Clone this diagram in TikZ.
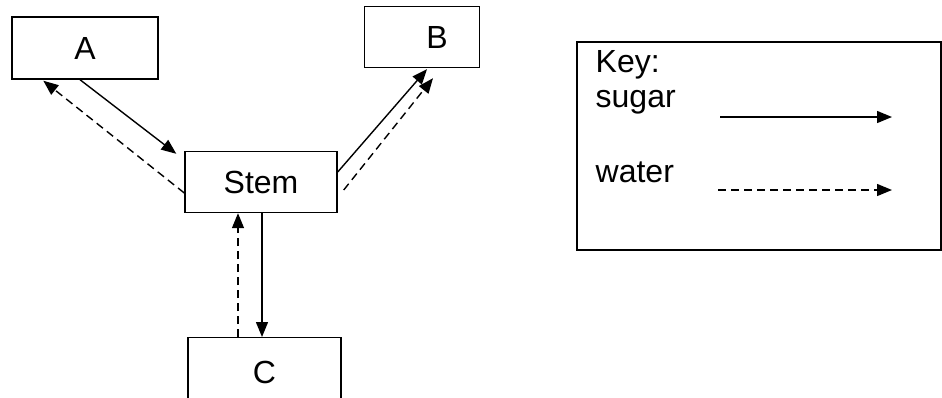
\documentclass[tikz,border=0pt]{standalone}
\usepackage{fontspec}
\setmainfont{Liberation Sans}
\usetikzlibrary{arrows.meta,positioning}

\begin{document}
\begin{tikzpicture}[x=1pt, y=-1pt, line width=1.4pt,
 >={Triangle[length=15pt,width=12pt]},
 font=\fontsize{32}{38}\selectfont,
 part/.style={draw, inner sep=0pt, minimum height=62pt},
 sugar/.style={->},
 water/.style={->, dash pattern=on 8pt off 5pt}]
 \useasboundingbox (0,0) rectangle (942,397);
 \node[part, minimum width=146pt] (A) at (85,48) {A};
 \node[part, minimum width=115pt, minimum height=61pt, label={[xshift=15pt]center:B}] (B) at (422,37) {};
 \node[part, minimum width=152pt, minimum height=61pt] (stem) at (261,182) {Stem};
 \node[part, minimum width=153pt, minimum height=70pt, anchor=north] (C) at (264.5,337) {C};
 % key
 \node[draw, inner sep=0pt, minimum width=364pt, minimum height=208pt] (key) at (759,146) {};
 \node[anchor=base west, inner sep=0pt] (keytitle) at (595,72) {Key:};
 \node[anchor=base west, inner sep=0pt] (sugartext) at (595,107) {sugar};
 \node[anchor=base west, inner sep=0pt] (watertext) at (595,182) {water};
 \coordinate (s1) at (720,117);
 \coordinate (s2) at (892,117);
 \coordinate (w1) at (718,190);
 \coordinate (w2) at (892,190);
 \draw[sugar] (s1) -- (s2);
 \draw[water] (w1) -- (w2);
 % flows
 \draw[sugar] ([xshift=-5pt]A.south) -- ([xshift=-8pt,yshift=-3pt]stem.north west);
 \draw[water] ([yshift=-11pt]stem.west) -- ([xshift=32pt,yshift=-1pt]A.south west);
 \draw[sugar] ([yshift=10pt]stem.east) -- ([xshift=5pt,yshift=-1pt]B.south);
 \draw[water] ([xshift=6pt,yshift=-8pt]stem.east) -- ([xshift=11pt,yshift=-10pt]B.south);
 \draw[sugar] ([xshift=1pt]stem.south) -- ([xshift=-2.5pt]C.north);
 \draw[water] ([xshift=-26.5pt]C.north) -- ([xshift=-23pt]stem.south);
\end{tikzpicture}
\end{document}
